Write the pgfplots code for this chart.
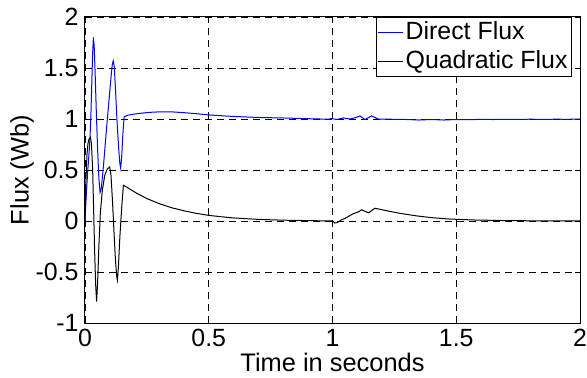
\documentclass[border=0pt]{standalone}
\usepackage{fontspec}
\setmainfont{Liberation Sans}
\usepackage{pgfplots}
\pgfplotsset{compat=1.18}
\definecolor{mblue}{rgb}{0,0,1}
\begin{document}
\fontsize{25}{30}\selectfont
\begin{tikzpicture}
\begin{axis}[name=ax, scale only axis, width=495bp, height=306bp,
  xmin=0, xmax=2, ymin=-1, ymax=2,
  xtick={0,0.5,1,1.5,2}, ytick={-1,-0.5,0,0.5,1,1.5,2},
  grid=major, grid style={black, line width=0.6bp, dash pattern=on 7bp off 5bp},
  axis line style={black, line width=1bp},
  tick align=inside, major tick length=5bp, tick style={black, line width=0.6bp},
  /pgf/number format/assume math mode=true,
  ticklabel style={font=\fontsize{25}{30}\selectfont},
  xticklabel style={yshift=2bp},
  yticklabel style={xshift=2bp},
  xlabel={Time in seconds}, ylabel={Flux (Wb)},
  label style={font=\fontsize{25.5}{30}\selectfont},
  xlabel style={at={(axis description cs:0.5,-0.160)}, anchor=base},
  ylabel style={at={(axis description cs:-0.127,0.5)}, anchor=center, rotate=0},
  legend style={at={(axis description cs:0.984,1)}, anchor=north east, draw=black, line width=1bp,
    font=\fontsize{25}{30}\selectfont, row sep=3bp, inner sep=2bp, cells={anchor=west}},
  legend image code/.code={\draw[#1, line width=0.6bp] (0bp,0bp) -- (25bp,0bp);},
  every axis plot/.append style={line width=1bp},
]
\addplot[mblue] coordinates {
(0,0) (0.005,0.25) (0.01,0.45) (0.015,0.62) (0.02,0.8) (0.024,1.05) (0.028,1.4) (0.031,1.65) (0.034,1.8)
(0.037,1.72) (0.041,1.45) (0.046,1.05) (0.051,0.7) (0.056,0.42) (0.061,0.28) (0.066,0.32)
(0.075,0.55) (0.085,0.85) (0.095,1.13) (0.104,1.38) (0.110,1.53) (0.114,1.57) (0.118,1.52)
(0.123,1.3) (0.130,0.95) (0.137,0.68) (0.141,0.56) (0.144,0.52) (0.148,0.62) (0.153,0.85) (0.158,1.02)
(0.17,1.035) (0.19,1.045) (0.22,1.055) (0.26,1.065) (0.3,1.07) (0.35,1.07) (0.4,1.062) (0.45,1.052)
(0.5,1.04) (0.55,1.032) (0.6,1.025) (0.65,1.02) (0.7,1.015) (0.8,1.01) (0.9,1.003) (0.983,0.998)
(0.996,1.005) (1.017,0.995) (1.044,1.01) (1.071,1.0) (1.095,1.015) (1.111,1.03) (1.131,0.995)
(1.158,1.03) (1.185,1.0) (1.22,0.998) (1.26,0.997) (1.3,0.995) (1.35,0.99) (1.4,0.995) (1.45,0.99)
(1.5,0.995) (1.55,0.994) (1.6,0.996) (1.65,0.995) (1.7,0.997) (1.75,0.996) (1.8,0.998) (1.85,0.996)
(1.9,0.998) (1.95,0.997) (2.0,1.0)
};
\addlegendentry{Direct Flux}
\addplot[black] coordinates {
(0,0) (0.004,0.4) (0.008,0.65) (0.012,0.76) (0.016,0.8) (0.022,0.82) (0.026,0.76) (0.031,0.5)
(0.035,0.1) (0.039,-0.3) (0.043,-0.62) (0.047,-0.79) (0.051,-0.6) (0.056,-0.25) (0.062,0.08)
(0.07,0.3) (0.08,0.45) (0.09,0.51) (0.1,0.53) (0.105,0.45) (0.111,0.2) (0.117,-0.1) (0.123,-0.38)
(0.128,-0.54) (0.131,-0.58) (0.135,-0.45) (0.141,-0.15) (0.148,0.12) (0.155,0.35)
(0.17,0.33) (0.19,0.3) (0.21,0.27) (0.25,0.22) (0.3,0.17) (0.35,0.13) (0.4,0.10) (0.45,0.075)
(0.5,0.055) (0.55,0.042) (0.6,0.03) (0.7,0.016) (0.8,0.008) (0.9,0.004) (1.0,0.0) (1.01,-0.02)
(1.02,-0.015) (1.035,0.01) (1.05,0.025) (1.083,0.07) (1.105,0.09) (1.118,0.11) (1.145,0.08)
(1.172,0.125) (1.22,0.1) (1.273,0.075) (1.34,0.05) (1.4,0.033) (1.467,0.02) (1.57,0.01)
(1.68,0.005) (1.8,0.002) (1.9,0.001) (2.0,0.0)
};
\addlegendentry{Quadratic Flux}
\end{axis}
\pgfresetboundingbox
\path[use as bounding box] ([xshift=-85bp,yshift=-55bp]ax.south west) rectangle ([xshift=7bp,yshift=17bp]ax.north east);
\end{tikzpicture}
\end{document}
